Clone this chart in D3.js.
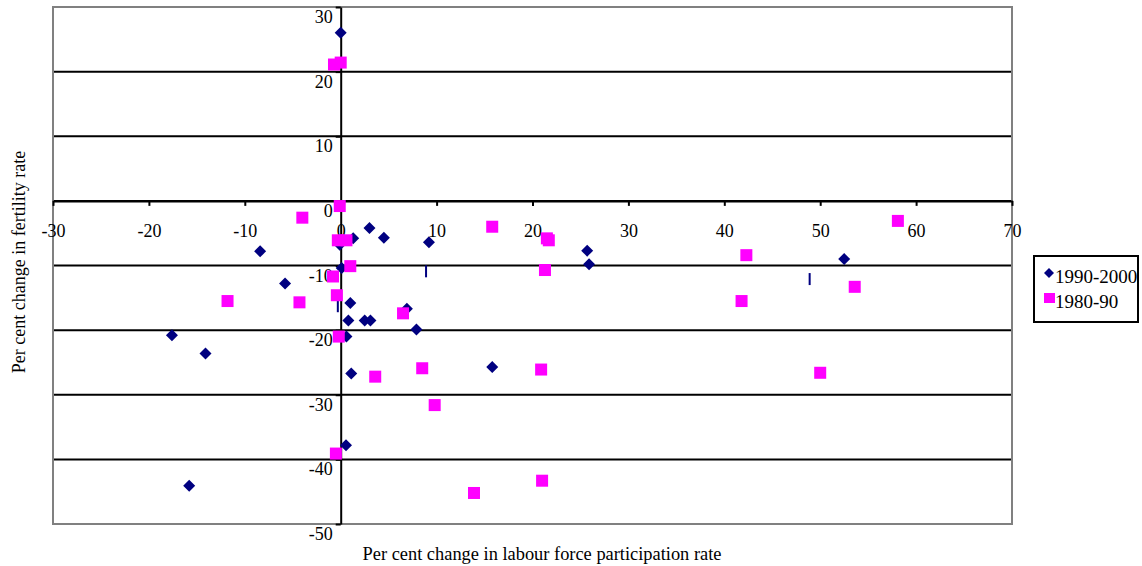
<!DOCTYPE html>
<html>
<head>
<meta charset="utf-8">
<script src="https://cdn.jsdelivr.net/npm/d3@7"></script>
<style>
  html, body { margin: 0; padding: 0; background: #fff; }
  svg { display: block; }
  text { font-family: "Liberation Serif", "Times New Roman", serif; fill: #000; }
</style>
</head>
<body>
<svg id="chart" width="1142" height="566"></svg>
<script>
// Labour force participation change (x) vs fertility change (y), per cent
const x1990 = [0, -8.4, 1.3, 3.0, 4.5, 9.2, -0.1, 0.1, 1.0, 0.8, 2.5, 3.1, 6.9, 7.9, 0.6, -17.6, -14.1, -5.8, 1.1, 0.55, -15.8, 25.7, 25.9, 15.8, 52.5];
const y1990 = [26, -7.8, -5.8, -4.2, -5.7, -6.4, -6.8, -10.4, -15.8, -18.5, -18.5, -18.5, -16.7, -19.9, -21.0, -20.8, -23.6, -12.8, -26.7, -37.8, -44.1, -7.7, -9.8, -25.7, -9.0];

const x1980 = [-0.7, 0, -0.1, -4.0, -0.3, 0.6, 1.0, -0.8, -0.4, 6.5, -0.2, -11.8, -4.3, 3.6, -0.5, 8.5, 9.8, 13.9, 15.8, 21.5, 21.7, 21.3, 20.9, 21.0, 58.1, 42.3, 41.8, 53.6, 50.0];
const y1980 = [21.1, 21.4, -0.8, -2.6, -6.1, -6.1, -10.1, -11.7, -14.6, -17.4, -21.0, -15.5, -15.7, -27.2, -39.1, -25.9, -31.6, -45.2, -4.0, -5.8, -6.1, -10.7, -26.1, -43.3, -3.1, -8.4, -15.5, -13.3, -26.6];

// thin 1990-2000 markers drawn edge-on
const xFlat = [8.9, -0.3, 48.9];
const yFlat = [-10.9, -16.3, -12.1];

const xTicks = [-30, -20, -10, 0, 10, 20, 30, 40, 50, 60, 70];
const yTicks = [30, 20, 10, 0, -10, -20, -30, -40, -50];
const seriesNames = ["1990-2000", "1980-90"];
const seriesColors = ["#000080", "#FF00FF"];

const svg = d3.select("#chart");
const x = d3.scaleLinear().domain([-30, 70]).range([53, 1012]);
const y = d3.scaleLinear().domain([-50, 30]).range([524, 7]);
const plain = d => String(d);

// horizontal gridlines
svg.append("g").selectAll("line")
  .data(yTicks.filter(v => v !== 30 && v !== -50))
  .join("line")
  .attr("x1", x(-30)).attr("x2", x(70))
  .attr("y1", d => y(d)).attr("y2", d => y(d))
  .attr("stroke", "#000").attr("stroke-width", 2);

// plot area frame
svg.append("rect")
  .attr("x", x(-30)).attr("y", y(30))
  .attr("width", x(70) - x(-30)).attr("height", y(-50) - y(30))
  .attr("fill", "none").attr("stroke", "#808080").attr("stroke-width", 2);

// x axis through y = 0
const xAxis = svg.append("g")
  .attr("transform", `translate(0,${y(0)})`)
  .call(d3.axisBottom(x).tickValues(xTicks).tickFormat(plain).tickSize(5).tickPadding(18).tickSizeOuter(0));
xAxis.select(".domain").attr("stroke", "#000").attr("stroke-width", 2);
xAxis.selectAll(".tick line").attr("stroke", "#000").attr("stroke-width", 2);
xAxis.selectAll(".tick text").attr("font-size", 18).attr("font-family", null);

// y axis through x = 0; labels sit just below their gridlines
const yAxis = svg.append("g")
  .attr("transform", `translate(${x(0)},0)`)
  .call(d3.axisLeft(y).tickValues(yTicks).tickFormat("").tickSize(5).tickSizeOuter(0));
yAxis.select(".domain").attr("stroke", "#000").attr("stroke-width", 2);
yAxis.selectAll(".tick line").attr("stroke", "#000").attr("stroke-width", 2);

svg.append("g").selectAll("text")
  .data(yTicks).join("text")
  .attr("x", x(0) - 8)
  .attr("y", d => y(d) + 16)
  .attr("text-anchor", "end")
  .attr("font-size", 18)
  .text(plain);

const diamond = s => `M0,${-s}L${s},0L0,${s}L${-s},0Z`;

const pts1990 = x1990.map((v, i) => [v, y1990[i]]);
const pts1980 = x1980.map((v, i) => [v, y1980[i]]);
const ptsFlat = xFlat.map((v, i) => [v, yFlat[i]]);

svg.append("g").selectAll("path")
  .data(pts1990).join("path")
  .attr("transform", d => `translate(${x(d[0])},${y(d[1])})`)
  .attr("d", diamond(6))
  .attr("fill", seriesColors[0]);

svg.append("g").selectAll("rect")
  .data(ptsFlat).join("rect")
  .attr("x", d => x(d[0]) - 1).attr("y", d => y(d[1]) - 6)
  .attr("width", 2).attr("height", 12)
  .attr("fill", seriesColors[0]);

svg.append("g").selectAll("rect")
  .data(pts1980).join("rect")
  .attr("x", d => x(d[0]) - 6).attr("y", d => y(d[1]) - 6)
  .attr("width", 12).attr("height", 12)
  .attr("fill", seriesColors[1]);

// axis titles
svg.append("text")
  .attr("x", 542).attr("y", 560)
  .attr("text-anchor", "middle").attr("font-size", 18.4)
  .text("Per cent change in labour force participation rate");
svg.append("text")
  .attr("transform", "translate(25,262) rotate(-90)")
  .attr("text-anchor", "middle").attr("font-size", 18)
  .text("Per cent change in fertility rate");

// legend
const lg = svg.append("g");
lg.append("rect")
  .attr("x", 1034).attr("y", 256).attr("width", 104).attr("height", 66)
  .attr("fill", "#fff").attr("stroke", "#000").attr("stroke-width", 2);
lg.append("path").attr("transform", "translate(1049,273)").attr("d", diamond(5)).attr("fill", seriesColors[0]);
lg.append("rect").attr("x", 1044).attr("y", 293).attr("width", 11).attr("height", 10).attr("fill", seriesColors[1]);
lg.selectAll("text.lbl").data(seriesNames).join("text")
  .attr("class", "lbl")
  .attr("x", 1055).attr("y", (d, i) => 283 + i * 25)
  .attr("font-size", 19)
  .text(d => d);
</script>
</body>
</html>
